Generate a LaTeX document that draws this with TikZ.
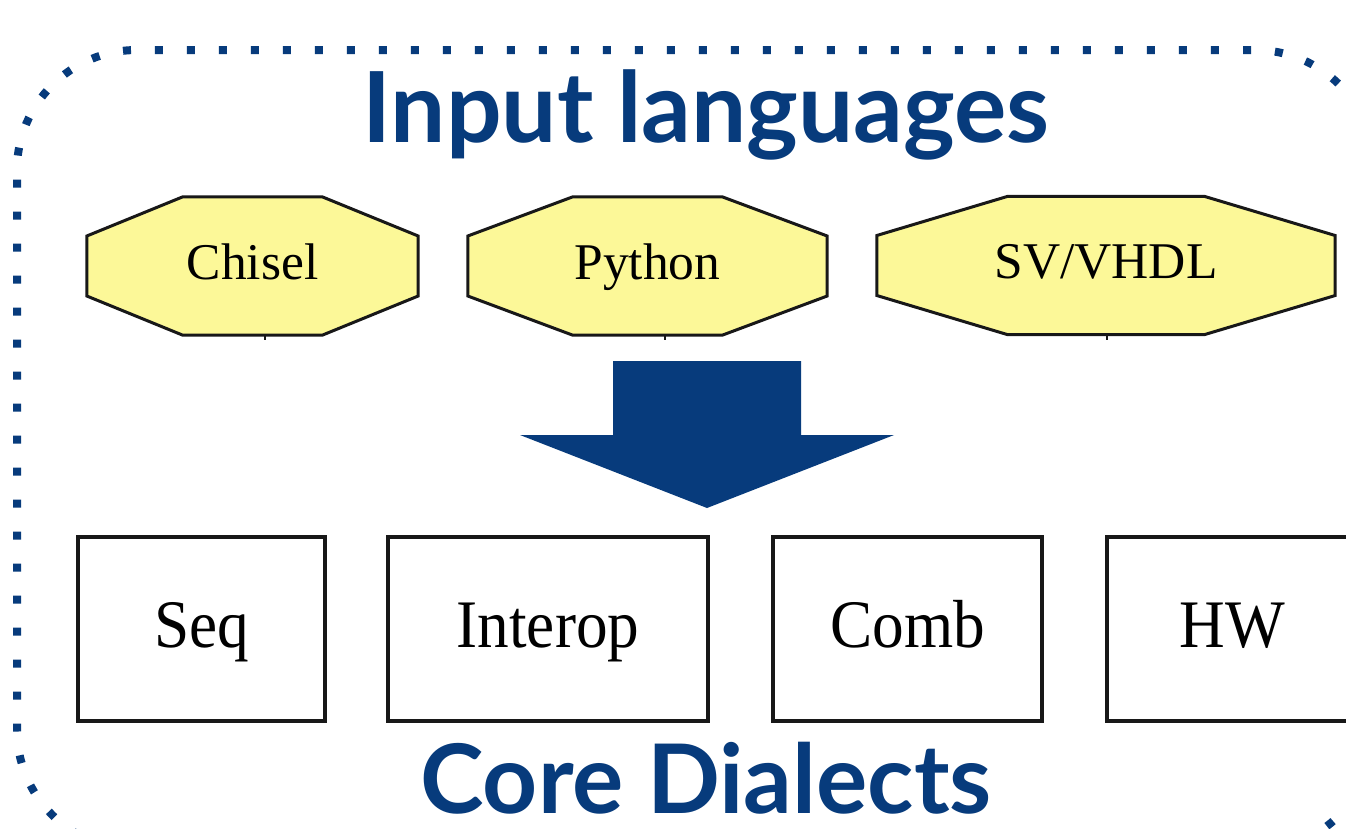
\documentclass[tikz,border=0pt]{standalone}
\usepackage{fontspec}
\usetikzlibrary{calc,backgrounds}
\newfontfamily\titlefont{Lato}
\newfontfamily\labelfont{Liberation Serif}
\newfontfamily\dialectfont[FakeStretch=0.93]{Liberation Serif}
\definecolor{brandblue}{RGB}{7,59,124}
\definecolor{langfill}{RGB}{252,248,152}
\definecolor{inkline}{RGB}{24,24,24}
% octagon outline around a (text-only) node; #2 = horizontal corner cut
\newcommand\octoutline[2]{%
  \path[octa] ($(#1.north west)+(#2,0)$) -- ($(#1.north east)+(-#2,0)$)
    -- ($(#1.east)+(0,-30)$) -- ($(#1.east)+(0,30)$)
    -- ($(#1.south east)+(-#2,0)$) -- ($(#1.south west)+(#2,0)$)
    -- ($(#1.west)+(0,30)$) -- ($(#1.west)+(0,-30)$) -- cycle;}
\begin{document}
\begin{tikzpicture}[x=1pt,y=-1pt,
  title/.style={font=\titlefont\bfseries\fontsize{98}{110}\selectfont, text=brandblue, anchor=base, inner sep=0pt, text depth=0pt},
  lang/.style={font=\labelfont\fontsize{51.5}{60}\selectfont, inner sep=0pt, text height=32pt, text depth=6pt, minimum height=138pt},
  octa/.style={draw=inkline, line width=3pt, fill=langfill, line join=miter},
  dialect/.style={draw=inkline, line width=3.5pt, fill=white, font=\dialectfont\fontsize{68}{80}\selectfont, inner sep=0pt, text height=45pt, text depth=9pt, minimum height=184pt},
  border/.style={draw=brandblue, line width=8pt, dash pattern=on 8pt off 24pt, dash phase=10pt, rounded corners=120pt},
  stub/.style={draw=inkline, line width=2pt}]
\useasboundingbox (0,0) rectangle (1346,828);
\clip (0,0) rectangle (1346,828);

% dotted frame (starts on the hidden bottom edge)
\path[border] (700,850) -- (17,850) -- (17,50) -- (1375,50) -- (1375,850) -- cycle;

% titles
\node[title] (inputs) at (706,142) {Input languages};
\node[title, font=\titlefont\bfseries\fontsize{96}{108}\selectfont] (core) at (706,813) {Core Dialects};

% input languages
\node[lang, minimum width=331pt] (chisel) at (252.5,266) {Chisel};
\node[lang, minimum width=359pt] (python) at (647.5,266) {Python};
\node[lang, minimum width=458pt] (svvhdl) at (1106,265.5) {SV/VHDL};
\begin{scope}[on background layer]
  \fill[white] (0,0) rectangle (1346,828);
  \octoutline{chisel}{96}
  \octoutline{python}{105}
  \octoutline{svvhdl}{131}
\end{scope}
\draw[stub] ($(chisel.south)+(12,0)$) -- ++(0,5);
\draw[stub] ($(python.south)+(17,0)$) -- ++(0,5);
\draw[stub] ($(svvhdl.south)+(1,0)$) -- ++(0,5);

% big block arrow
\fill[brandblue] (613,361) -- (801,361) -- (801,435) -- (894,435)
  -- (707,508) -- (520,435) -- (613,435) -- cycle;

% core dialects
\node[dialect, minimum width=247pt] (seq) at (201.5,629) {Seq};
\node[dialect, minimum width=320pt] (interop) at (548,629) {Interop};
\node[dialect, minimum width=269pt] (comb) at (907.5,629) {Comb};
\node[dialect, minimum width=251pt] (hw) at (1232.5,629) {HW};
\end{tikzpicture}
\end{document}
